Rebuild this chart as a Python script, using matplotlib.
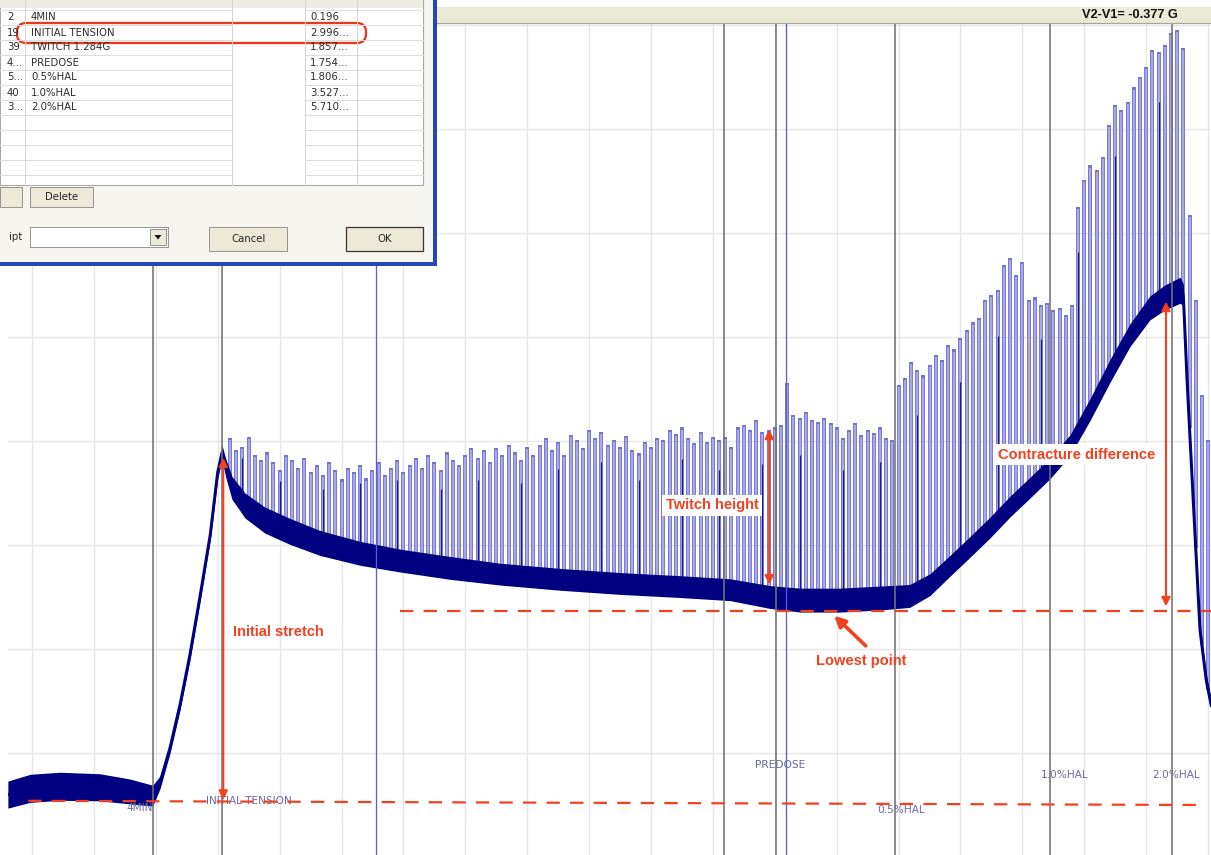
import numpy as np
import matplotlib
matplotlib.use("Agg")
import matplotlib.pyplot as plt
from matplotlib.patches import Rectangle, FancyBboxPatch, Polygon

# ---------------------------------------------------------------- data ----
# slow tension trace (time in min, tension in g)
base_t = [-0.39, -0.03, 0.45, 1.10, 1.58, 1.95,
          2.07, 2.23, 2.39, 2.55, 2.71, 2.88,
          3.00, 3.07, 3.13, 3.23, 3.44, 3.76,
          4.17, 4.65, 5.30, 5.95, 6.75, 7.56,
          8.53, 9.50, 10.47, 11.28, 11.92, 12.41,
          13.05, 13.70, 14.18, 14.51, 14.83, 15.15,
          15.48, 15.80, 16.12, 16.45, 16.77, 17.09,
          17.42, 17.74, 18.06, 18.30, 18.55, 18.60,
          18.66, 18.76, 18.87, 18.97, 19.05]
base_g = [0.60, 0.66, 0.68, 0.67, 0.63, 0.59,
          0.72, 1.05, 1.46, 1.94, 2.49, 3.10,
          3.70, 3.89, 3.74, 3.55, 3.38, 3.24,
          3.13, 3.02, 2.92, 2.85, 2.78, 2.72,
          2.67, 2.63, 2.60, 2.57, 2.50, 2.47,
          2.47, 2.49, 2.51, 2.62, 2.80, 2.98,
          3.17, 3.37, 3.55, 3.74, 3.96, 4.30,
          4.68, 5.02, 5.28, 5.38, 5.45, 5.40,
          4.59, 3.43, 2.18, 1.70, 1.46]
# peak-to-peak noise width of the trace
band_g = [0.26, 0.27, 0.27, 0.26, 0.24, 0.20,
          0.12, 0.10, 0.10, 0.10, 0.10, 0.10,
          0.12, 0.14, 0.18, 0.22, 0.24, 0.25,
          0.25, 0.24, 0.23, 0.22, 0.22, 0.21,
          0.21, 0.21, 0.21, 0.21, 0.22, 0.23,
          0.23, 0.23, 0.22, 0.21, 0.20, 0.20,
          0.20, 0.20, 0.20, 0.20, 0.20, 0.21,
          0.22, 0.22, 0.23, 0.24, 0.25, 0.22,
          0.14, 0.12, 0.12, 0.12, 0.12]

# electrically evoked twitches: first stimulus, interval, peak tension
twitch_start = 3.2
twitch_interval = 0.1
twitch_peak_g = [
    4.03, 3.91, 3.94, 4.04, 3.87, 3.82, 3.89, 3.80, 3.72, 3.87,
    3.82, 3.74, 3.84, 3.70, 3.77, 3.67, 3.80, 3.72, 3.63, 3.74,
    3.70, 3.77, 3.64, 3.72, 3.80, 3.67, 3.74, 3.82, 3.70, 3.77,
    3.84, 3.74, 3.87, 3.80, 3.72, 3.89, 3.82, 3.77, 3.87, 3.93,
    3.84, 3.91, 3.80, 3.93, 3.87, 3.96, 3.89, 3.82, 3.94, 3.87,
    3.96, 4.03, 3.91, 3.99, 3.87, 4.06, 4.01, 3.93, 4.11, 4.03,
    4.09, 3.96, 4.01, 3.94, 4.05, 3.91, 3.88, 3.99, 3.94, 4.03,
    4.01, 4.11, 4.07, 4.13, 4.03, 3.98, 4.09, 3.99, 4.04, 4.01,
    4.04, 3.94, 4.13, 4.15, 4.11, 4.20, 4.09, 4.11, 4.13, 4.15,
    4.56, 4.25, 4.22, 4.28, 4.20, 4.18, 4.22, 4.17, 4.13, 4.03,
    4.11, 4.17, 4.06, 4.11, 4.08, 4.13, 4.03, 4.01, 4.54, 4.61,
    4.76, 4.68, 4.63, 4.73, 4.83, 4.78, 4.92, 4.88, 4.99, 5.07,
    5.14, 5.18, 5.36, 5.40, 5.45, 5.69, 5.76, 5.60, 5.72, 5.36,
    5.38, 5.31, 5.33, 5.26, 5.28, 5.21, 5.31, 6.25, 6.51, 6.65,
    6.61, 6.73, 7.04, 7.23, 7.18, 7.26, 7.40, 7.50, 7.60, 7.76,
    7.74, 7.81, 7.92, 7.95, 7.78, 6.17, 5.36, 4.44, 4.01]
dark_twitch = [2, 8, 15, 21, 27, 34, 40, 47, 53, 60, 66, 73, 79, 86, 92,
               99, 105, 111, 118, 124, 131, 137, 143, 150]

# event markers
marker_t = [1.955, 3.07, 11.18, 12.02, 13.94, 16.45, 18.42]
marker_names = ["4MIN", "INITIAL TENSION", "TWITCH 1.284G", "PREDOSE",
                "0.5%HAL", "1.0%HAL", "2.0%HAL"]
marker_ids = ["2", "19", "39", "4...", "5...", "40", "3..."]
marker_values = ["0.196", "2.996...", "1.857...", "1.754...", "1.806...",
                 "3.527...", "5.710..."]
cursor_t = [5.56, 12.18]
delta_text = "V2-V1= -0.377 G"

# reference levels
initial_level_t = [-0.06, 18.84]
initial_level_g = [0.54, 0.50]
lowest_level_t = [5.95, 19.05]
lowest_level_g = [2.37, 2.37]

# measured spans (x, low, high)
stretch_span = (3.09, 0.55, 3.84)
twitch_span = (11.91, 2.62, 4.11)
contracture_span = (18.32, 2.41, 5.34)
lowest_point = (12.96, 2.32)

# ------------------------------------------------------------- drawing ----
W, H = 1211, 855
fig = plt.figure(figsize=(W / 100, H / 100), dpi=100)
fig.patch.set_facecolor("white")

RED = "#f2411f"
NAVY = "#000080"
PX = 0.72  # points per pixel

ax = fig.add_axes([8 / W, 0, (W - 8) / W, (H - 24) / H])
ax.set_xlim(-0.388, 19.047)
ax.set_ylim(0.019, 8.01)
ax.set_xticks(np.arange(0, 20))
ax.set_yticks(np.arange(1, 9))
ax.grid(True, color="#e6e6e6", lw=1.4 * PX)
ax.set_axisbelow(True)
ax.tick_params(length=0, labelbottom=False, labelleft=False)
for s in ax.spines.values():
    s.set_visible(False)

bt = np.array(base_t)
bg = np.array(base_g)
bw = np.array(band_g)

# twitches
tw_t = twitch_start + twitch_interval * np.arange(len(twitch_peak_g))
tw_base = np.interp(tw_t, bt, bg)
tw_peak = np.array(twitch_peak_g)
ax.vlines(tw_t, tw_base, tw_peak, color="#7272d0", lw=3.9 * PX, zorder=2)
ax.vlines(tw_t, tw_base, tw_peak - 0.02, color="#a9a9ea", lw=2.1 * PX, zorder=2.1)
dk = np.array(dark_twitch)
ax.vlines(tw_t[dk], tw_base[dk], tw_base[dk] + 0.8 * (tw_peak[dk] - tw_base[dk]),
          color="#1a1a90", lw=1.2 * PX, zorder=2.2)

# slow trace
ax.fill_between(bt, bg - bw / 2, bg + bw / 2, color=NAVY, lw=0, zorder=3)
ax.plot(bt, bg, color=NAVY, lw=3.0 * PX, zorder=3, solid_joinstyle="round")

# event markers and cursors
for t in marker_t:
    ax.axvline(t, color="#727272", lw=1.6 * PX, zorder=4)
for t in cursor_t:
    ax.axvline(t, color="#5a5ae6", lw=1.3 * PX, zorder=4)

label_pos = {"4MIN": (1.745, 0.47), "INITIAL TENSION": (3.51, 0.54),
             "PREDOSE": (12.08, 0.88), "0.5%HAL": (14.04, 0.45),
             "1.0%HAL": (16.69, 0.79), "2.0%HAL": (18.48, 0.79)}
for name in marker_names:
    if name in label_pos:
        x, y = label_pos[name]
        ax.text(x, y, name, ha="center", va="center", fontsize=7.6,
                family="DejaVu Sans", color="#6a6aa6", zorder=5)

# reference levels
dash = (0, (6.0, 4.6))
ax.plot(initial_level_t, initial_level_g, color=RED, lw=1.6, ls=dash, zorder=6)
ax.plot(lowest_level_t, lowest_level_g, color=RED, lw=1.6, ls=dash, zorder=6)

# measurement arrows
def span_arrow(span):
    x, lo, hi = span
    ax.annotate("", xy=(x, hi), xytext=(x, lo),
                arrowprops=dict(arrowstyle="<|-|>", color=RED, lw=1.5,
                                mutation_scale=13, shrinkA=0, shrinkB=0),
                zorder=7)

span_arrow(stretch_span)
span_arrow(twitch_span)
span_arrow(contracture_span)
ax.annotate("", xy=lowest_point, xytext=(13.47, 2.03),
            arrowprops=dict(arrowstyle="-|>", color=RED, lw=2.6,
                            mutation_scale=16, shrinkA=0, shrinkB=0),
            zorder=7)

tkw = dict(fontsize=10.5, weight="bold", family="Liberation Sans", color=RED, zorder=8)
ax.text(3.25, 2.16, "Initial stretch", ha="left", va="center", **tkw)
ax.text(10.99, 3.38, "Twitch height", ha="center", va="center",
        bbox=dict(fc="white", ec="none", pad=2.5), **tkw)
ax.text(16.88, 3.87, "Contracture difference", ha="center", va="center",
        bbox=dict(fc="white", ec="none", pad=2.5), **tkw)
ax.text(13.39, 1.88, "Lowest point", ha="center", va="center", **tkw)

# --------------------------------------------------- window decoration ----
ui = fig.add_axes([0, 0, 1, 1], zorder=10)
ui.set_xlim(0, W)
ui.set_ylim(H, 0)
ui.axis("off")
ui.patch.set_visible(False)

# toolbar with cursor readout
ui.add_patch(Rectangle((437, 0), W - 437, 7, fc="white", ec="none"))
ui.add_patch(Rectangle((437, 7), W - 437, 17, fc="#ece9d8", ec="none"))
ui.plot([437, W], [23.5, 23.5], color="#a9a596", lw=1.2 * PX)
ui.text(1178, 15.5, delta_text, ha="right", va="center", fontsize=9.2,
        weight="bold", family="Liberation Sans", color="#111111")

# marker list dialog
ui.add_patch(Rectangle((0, 0), 434, 263, fc="#f6f5f0", ec="none"))
ui.add_patch(Rectangle((0, 0), 423, 185, fc="white", ec="#a8a8a8", lw=0.8))
ui.add_patch(Rectangle((0, 0), 423, 8, fc="#ecebe4", ec="none"))
for y in np.arange(10, 185, 15):
    ui.plot([0, 232], [y, y], color="#dcdcdc", lw=0.7)
    ui.plot([305, 423], [y, y], color="#dcdcdc", lw=0.7)
for x in [25, 232, 305, 357]:
    ui.plot([x, x], [0, 185], color="#d4d4d4", lw=0.7)

dkw = dict(fontsize=7.3, family="DejaVu Sans", color="#2c2c2c", va="center")
for k in range(len(marker_names)):
    y = 17.5 + 15 * k
    ui.text(7, y, marker_ids[k], ha="left", **dkw)
    ui.text(31, y, marker_names[k], ha="left", **dkw)
    ui.text(310, y, marker_values[k], ha="left", **dkw)

ui.add_patch(FancyBboxPatch((17, 23), 349, 20,
                            boxstyle="round,pad=0,rounding_size=9",
                            fc="none", ec="#ea3a1c", lw=2.3 * PX))

def button(x, y, w, h, text=None, strong=False):
    ui.add_patch(Rectangle((x, y), w, h, fc="#ece9d8",
                           ec="#3a3a3a" if strong else "#8c8c8c",
                           lw=1.3 * PX if strong else 0.9 * PX))
    if text:
        ui.text(x + w / 2, y + h / 2, text, ha="center", va="center",
                fontsize=7.3, family="DejaVu Sans", color="#222222")

button(0, 187, 22, 20)
button(30, 187, 63, 20, "Delete")
ui.text(9, 237, "ipt", ha="left", **dkw)
ui.add_patch(Rectangle((30, 227), 138, 20, fc="white", ec="#8c8c8c", lw=0.9 * PX))
button(150, 229, 16, 16)
ui.add_patch(Polygon([[154.5, 235], [161.5, 235], [158, 239.5]], closed=True,
                     fc="#111111", ec="none"))
button(209, 227, 78, 24, "Cancel")
button(346, 227, 77, 24, "OK", strong=True)

ui.add_patch(Rectangle((433, 0), 4, 266, fc="#2447b3", ec="none"))
ui.add_patch(Rectangle((0, 262), 437, 4, fc="#2447b3", ec="none"))

fig.savefig("out.png", dpi=100, facecolor="white")
